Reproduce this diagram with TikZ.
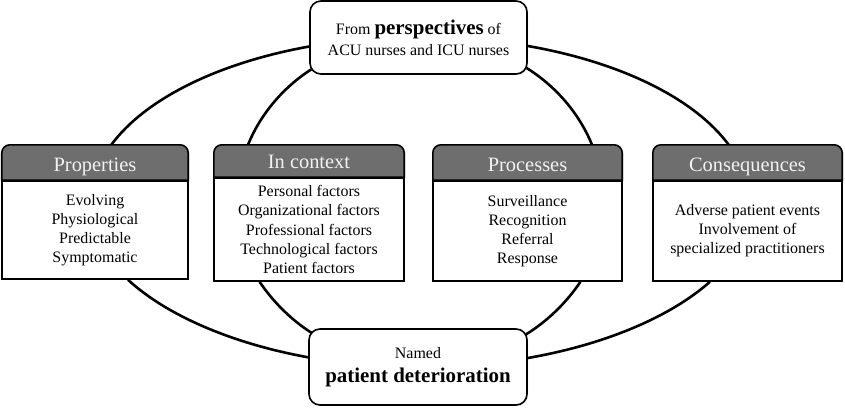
\documentclass[tikz,border=0pt]{standalone}
\usepackage{fontspec}
\setmainfont{Liberation Serif}
\usetikzlibrary{calc,backgrounds,shadows}
\definecolor{headgray}{RGB}{110,110,110}
\definecolor{headtext}{RGB}{242,242,242}
\begin{document}
\begin{tikzpicture}[x=1bp,y=-1bp,
  ring/.style={line width=2.6bp, black},
  boxline/.style={line width=1.6bp, draw=black},
  softshadow/.style={drop shadow={shadow xshift=1.2bp, shadow yshift=-1.2bp, opacity=0.22}},
  ovalbox/.style={boxline, fill=white, rounded corners=11bp, align=center, inner sep=0pt, softshadow},
  headspot/.style={inner sep=0pt, minimum height=35bp},
  headshape/.style={boxline, fill=headgray, softshadow},
  headlabel/.style={text=headtext, font=\fontsize{20.5}{24}\selectfont, inner sep=0pt, anchor=base},
  bodybox/.style={boxline, fill=white, align=center, inner sep=0pt, anchor=north,
    font=\fontsize{16}{19.2}\selectfont, softshadow}
]
\useasboundingbox (0,0) rectangle (845,414);

% top and bottom boxes
\node[ovalbox, minimum width=217bp, minimum height=73bp, font=\fontsize{16}{21}\selectfont]
  (top) at (418.5,37.5) {From {\fontsize{21}{21}\selectfont\bfseries perspectives} of\\ACU nurses and ICU nurses};
\node[ovalbox, minimum width=218bp, minimum height=76bp, font=\fontsize{16}{24}\selectfont]
  (bot) at (418,367) {Named\\{\fontsize{21}{24}\selectfont\bfseries patient deterioration}};

% Properties
\node[headspot, minimum width=186bp] (ph) at (95,162.5) {};
\draw[headshape] (ph.south) -- (ph.south west) -- (ph.west) [rounded corners=8bp] -- (ph.north west) -- (ph.north east) -- (ph.east) [sharp corners] -- (ph.south east) -- cycle;
\node[bodybox, minimum width=186bp, minimum height=98bp] (pb) at (ph.south) {Evolving\\Physiological\\Predictable\\Symptomatic};
\node[headlabel] (pl) at ($(ph.south)+(0,-8.5)$) {Properties};

% In context
\node[headspot, minimum width=190bp, minimum height=32bp] (ch) at (309,161) {};
\draw[headshape] (ch.south) -- (ch.south west) -- (ch.west) [rounded corners=8bp] -- (ch.north west) -- (ch.north east) -- (ch.east) [sharp corners] -- (ch.south east) -- cycle;
\node[bodybox, minimum width=190bp, minimum height=103bp, font=\fontsize{16}{19.4}\selectfont] (cb) at (ch.south) {Personal factors\\Organizational factors\\Professional factors\\Technological factors\\Patient factors};
\node[headlabel] (cl) at ($(ch.south)+(0,-8.5)$) {In context};

% Processes
\node[headspot, minimum width=189bp] (rh) at (527.5,162.5) {};
\draw[headshape] (rh.south) -- (rh.south west) -- (rh.west) [rounded corners=8bp] -- (rh.north west) -- (rh.north east) -- (rh.east) [sharp corners] -- (rh.south east) -- cycle;
\node[bodybox, minimum width=189bp, minimum height=100bp] (rb) at (rh.south) {Surveillance\\Recognition\\Referral\\Response};
\node[headlabel] (rl) at ($(rh.south)+(0,-8.5)$) {Processes};

% Consequences
\node[headspot, minimum width=189bp] (qh) at (747.5,162.5) {};
\draw[headshape] (qh.south) -- (qh.south west) -- (qh.west) [rounded corners=8bp] -- (qh.north west) -- (qh.north east) -- (qh.east) [sharp corners] -- (qh.south east) -- cycle;
\node[bodybox, minimum width=189bp, minimum height=100bp] (qb) at (qh.south) {Adverse patient events\\Involvement of\\specialized practitioners};
\node[headlabel] (ql) at ($(qh.south)+(0,-8.5)$) {Consequences};

% elliptical connectors
\begin{scope}[on background layer]
\draw[ring] ($(top.west)+(0,9)$) .. controls (217.9,62.9) and (145.1,99.0) .. ($(ph.north)+(16.3,0)$);
\draw[ring] ($(pb.south)+(33,0)$) .. controls (166.2,314.9) and (230.9,343.3) .. ($(bot.west)+(0,-9.7)$);
\draw[ring] ($(top.east)+(0,8.5)$) .. controls (620.5,62.1) and (694.5,98.5) .. ($(qh.north)+(-18.8,0)$);
\draw[ring] ($(qb.south)+(-37.6,0)$) .. controls (670.7,316.6) and (605.4,344.5) .. ($(bot.east)+(0,-9)$);
\draw[ring] ($(top.south west)+(2,-5.4)$) .. controls (282.7,87.8) and (260.4,114.4) .. ($(ch.north)+(-61,0)$);
\draw[ring] ($(cb.south)+(-49.4,0)$) .. controls (272.5,301.0) and (290.4,319.3) .. ($(bot.north west)+(3,4.4)$);
\draw[ring] ($(top.south east)+(-2,-7.3)$) .. controls (555.8,86.0) and (579.2,113.4) .. ($(rh.north)+(64.5,0)$);
\draw[ring] ($(rb.south)+(52.9,0)$) .. controls (566.9,302.0) and (547.9,320.9) .. ($(bot.north east)+(-2,6.3)$);
\end{scope}
\end{tikzpicture}
\end{document}
